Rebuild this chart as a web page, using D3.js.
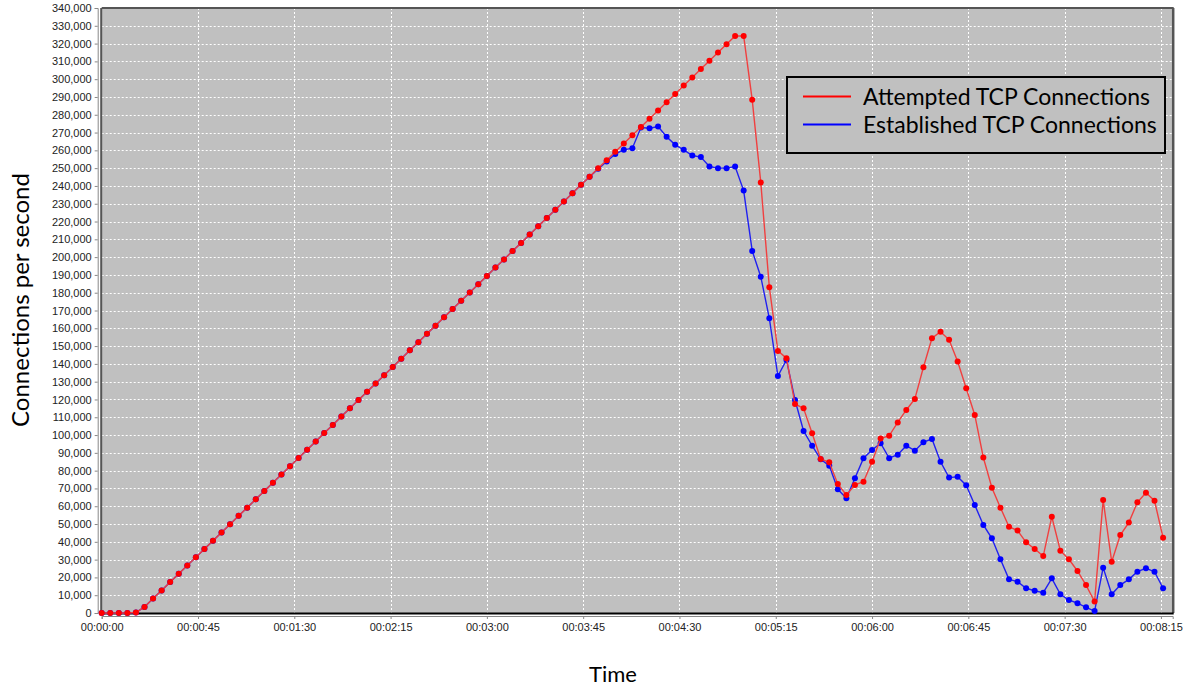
<!DOCTYPE html>
<html>
<head>
<meta charset="utf-8">
<script src="https://cdn.jsdelivr.net/npm/d3@7"></script>
<style>
  body { margin: 0; background: #fff; }
  text { font-family: "Liberation Sans", Arial, sans-serif; }
  .title { font-family: Lato, "Open Sans", sans-serif; font-size: 22px; fill: #000; }
</style>
</head>
<body>
<div id="chart"></div>
<script>
// sample times in seconds (one sample every 4 s)
var times = [0,4,8,12,16,20,24,28,32,36,40,44,48,52,56,60,64,68,72,76,80,84,88,92,96,
  100,104,108,112,116,120,124,128,132,136,140,144,148,152,156,160,164,168,172,176,180,184,188,192,196,
  200,204,208,212,216,220,224,228,232,236,240,244,248,252,256,260,264,268,272,276,280,284,288,292,296,
  300,304,308,312,316,320,324,328,332,336,340,344,348,352,356,360,364,368,372,376,380,384,388,392,396,
  400,404,408,412,416,420,424,428,432,436,440,444,448,452,456,460,464,468,472,476,480,484,488,492,496]

var attempted = [0,0,0,0,300,3400,8100,12700,17400,22000,26700,31300,36000,40600,45300,49900,54600,59200,63900,68500,
  73200,77800,82500,87100,91800,96400,101100,105700,110400,115000,119700,124300,129000,133600,138300,142900,147600,152200,156900,161500,
  166200,170800,175500,180100,184800,189400,194100,198700,203400,208000,212700,217300,222000,226600,231300,235900,240600,245200,249900,254500,
  259200,263800,268500,273100,277800,282400,287100,291700,296400,301000,305700,310300,315000,319600,324300,
  324300,288400,242000,183100,147300,143200,117500,115000,101000,86600,84700,72500,66300,72000,73800,85000,98000,99600,107100,114100,
  120300,138100,154400,158100,153500,141300,126300,111300,87400,70400,59200,48500,46300,39700,36000,32000,54100,35000,30200,23600,
  15700,6400,63500,28800,43800,50800,62200,67600,63100,42300]

var established = [0,0,0,0,300,3400,8100,12700,17400,22000,26700,31300,36000,40600,45300,49900,54600,59200,63900,68500,
  73200,77800,82500,87100,91800,96400,101100,105700,110400,115000,119700,124300,129000,133600,138300,142900,147600,152200,156900,161500,
  166200,170800,175500,180100,184800,189400,194100,198700,203400,208000,212700,217300,222000,226600,231300,235900,240600,245200,249600,253700,
  258000,260300,261200,272800,272400,273400,267700,263100,260300,257100,256200,250900,250000,250000,250900,
  237400,203500,189000,165600,133200,142200,119700,102300,94000,86400,82800,69500,64500,75700,87000,91600,95400,87000,89000,94000,
  91200,96000,97800,85000,76100,76600,71800,60700,49500,42000,30200,18900,17600,13900,12500,11400,19500,10500,7300,5500,
  3200,1100,25500,10500,15700,18900,23200,25100,23200,13900]

var xTicks = [0,45,90,135,180,225,270,315,360,405,450,495]
var yTicks = [0,10000,20000,30000,40000,50000,60000,70000,80000,90000,100000,110000,120000,130000,140000,150000,160000,
  170000,180000,190000,200000,210000,220000,230000,240000,250000,260000,270000,280000,290000,300000,310000,320000,330000,340000]
var seriesNames = ['Attempted TCP Connections','Established TCP Connections']
var seriesColors = ['#ff0000','#0000ff']
var lineColors = ['#f04040','#2020f0']

var W = 1187, H = 688
var pLeft = 101.7, pRight = 1172.7, pTop = 8, pBottom = 613

var svg = d3.select('#chart').append('svg')
    .attr('width', W)
    .attr('height', H)

var x = d3.scaleLinear().domain([0, 500.5]).range([pLeft, pRight])
var y = d3.scaleLinear().domain([0, 340000]).range([pBottom, pTop])

function fmtTime(s){
    var m = Math.floor(s / 60), sec = s % 60
    return '00:' + (m < 10 ? '0' : '') + m + ':' + (sec < 10 ? '0' : '') + sec
}

// plot background
svg.append('rect')
    .attr('x', pLeft).attr('y', pTop)
    .attr('width', pRight - pLeft).attr('height', pBottom - pTop)
    .attr('fill', '#c0c0c0')

// grid
svg.append('g').selectAll('line').data(yTicks.slice(1)).join('line')
    .attr('x1', pLeft).attr('x2', pRight)
    .attr('y1', function(d){ return Math.round(y(d)) + 0.5 })
    .attr('y2', function(d){ return Math.round(y(d)) + 0.5 })
    .attr('stroke', '#fff').attr('stroke-width', 1)
    .attr('stroke-dasharray', '2,2')
svg.append('g').selectAll('line').data(xTicks.slice(1)).join('line')
    .attr('y1', pTop).attr('y2', pBottom)
    .attr('x1', function(d){ return Math.round(x(d)) + 0.5 })
    .attr('x2', function(d){ return Math.round(x(d)) + 0.5 })
    .attr('stroke', '#fff').attr('stroke-width', 1)
    .attr('stroke-dasharray', '2,2')

// plot border
svg.append('line').attr('x1', pLeft).attr('x2', pRight + 1).attr('y1', pTop).attr('y2', pTop)
    .attr('stroke', '#555').attr('stroke-width', 2)
svg.append('line').attr('x1', pRight + 0.5).attr('x2', pRight + 0.5).attr('y1', pTop).attr('y2', pBottom)
    .attr('stroke', '#555').attr('stroke-width', 2.5)
svg.append('line').attr('x1', pLeft - 0.5).attr('x2', pLeft - 0.5).attr('y1', pTop).attr('y2', pBottom)
    .attr('stroke', '#555').attr('stroke-width', 2)
svg.append('line').attr('x1', pLeft).attr('x2', pRight + 1).attr('y1', pBottom + 0.5).attr('y2', pBottom + 0.5)
    .attr('stroke', '#000').attr('stroke-width', 2)

// axes
var yAxis = d3.axisLeft(y).tickValues(yTicks).tickSize(3).tickPadding(3)
    .tickFormat(d3.format(','))
var gy = svg.append('g').attr('transform', 'translate(' + (pLeft - 4) + ',0)').call(yAxis)
gy.select('.domain').attr('stroke', '#888')
gy.selectAll('.tick line').attr('stroke', '#888')
gy.selectAll('text').style('font-size', '11px').attr('fill', '#222')

var xAxis = d3.axisBottom(x).tickValues(xTicks).tickSize(3).tickPadding(4)
    .tickFormat(fmtTime)
var gx = svg.append('g').attr('transform', 'translate(0,' + (pBottom + 3) + ')').call(xAxis)
gx.select('.domain').attr('stroke', '#888')
gx.selectAll('.tick line').attr('stroke', '#888')
gx.selectAll('text').style('font-size', '11px').attr('fill', '#222')

// series
var series = [attempted, established]
var line = d3.line()
    .x(function(d, i){ return x(times[i]) })
    .y(function(d){ return y(d) })

// draw blue first, red on top
;[1, 0].forEach(function(k){
    var g = svg.append('g')
    g.append('path')
        .datum(series[k])
        .attr('d', line)
        .attr('fill', 'none')
        .attr('stroke', lineColors[k])
        .attr('stroke-width', 1.4)
    g.selectAll('circle').data(series[k]).join('circle')
        .attr('cx', function(d, i){ return x(times[i]) })
        .attr('cy', function(d){ return y(d) })
        .attr('r', 3)
        .attr('fill', seriesColors[k])
})

// legend
var lg = svg.append('g')
lg.append('rect')
    .attr('x', 787).attr('y', 77)
    .attr('width', 378).attr('height', 76)
    .attr('fill', '#c0c0c0')
    .attr('stroke', '#000').attr('stroke-width', 2)
seriesNames.forEach(function(name, i){
    var ly = 96.5 + i * 28
    lg.append('line')
        .attr('x1', 803).attr('x2', 851)
        .attr('y1', ly).attr('y2', ly)
        .attr('stroke', seriesColors[i]).attr('stroke-width', 2)
    lg.append('text')
        .attr('class', 'title')
        .style('font-size', '23px')
        .attr('x', 863).attr('y', ly + 8)
        .text(name)
})

// axis titles
svg.append('text')
    .attr('class', 'title')
    .attr('x', 613).attr('y', 682)
    .attr('text-anchor', 'middle')
    .text('Time')
svg.append('text')
    .attr('class', 'title')
    .style('font-size', '24px')
    .attr('transform', 'translate(29,300) rotate(-90)')
    .attr('text-anchor', 'middle')
    .text('Connections per second')
</script>
</body>
</html>
